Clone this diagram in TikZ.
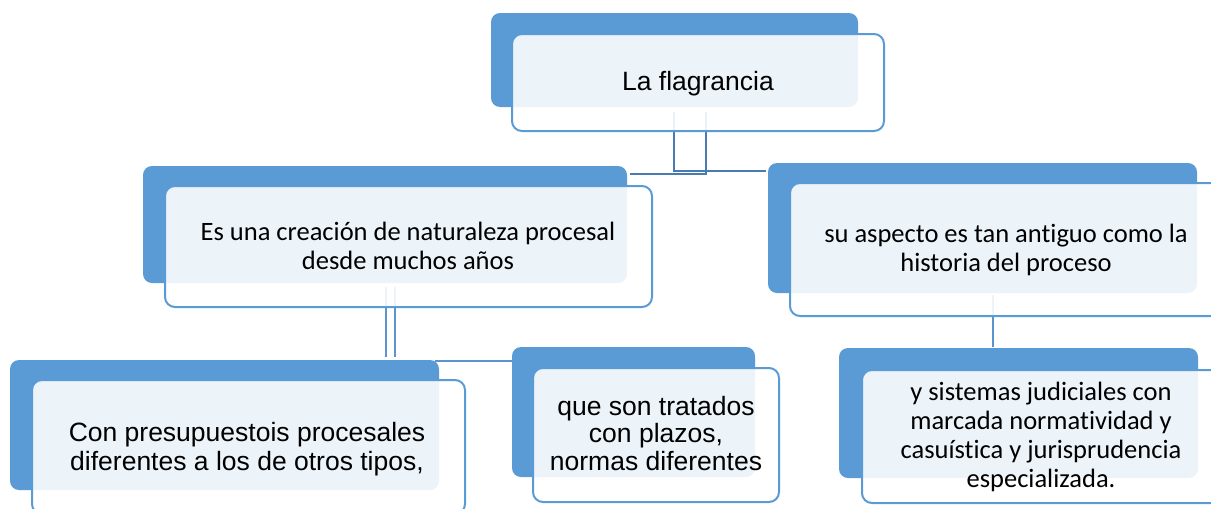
\documentclass[tikz,border=0pt]{standalone}
\usepackage{fontspec}
\newfontfamily\arialf{Liberation Sans}
\newfontfamily\calibrif[Ligatures={NoCommon}]{Carlito}
\definecolor{tabblue}{HTML}{5B9BD5}
\definecolor{edgeblue}{HTML}{5B9BD5}
\definecolor{linkdark}{HTML}{4A7BB0}
\definecolor{linklight}{HTML}{5B95CE}
\begin{document}
\begin{tikzpicture}[x=1pt,y=-1pt,
  backtab/.style={fill=tabblue,draw=none,rounded corners=9pt,inner sep=0pt},
  frontbox/.style={draw=edgeblue,line width=2pt,fill=white,fill opacity=0.89,rounded corners=10pt,inner sep=0pt},
  txt/.style={text=black,align=center,inner sep=0pt,anchor=base,font=\fontsize{26.5}{28.5}\selectfont},
  linkA/.style={draw=linkdark,line width=2pt},
  linkB/.style={draw=linklight,line width=2pt}]
\useasboundingbox (0,0) rectangle (1211,509);
\clip (0,0) rectangle (1211,509);
% connectors
\coordinate (c1) at (674,112);
\coordinate (c2) at (674,171);
\coordinate (c3) at (766,171);
\coordinate (c4) at (630,174);
\coordinate (c5) at (706,174);
\coordinate (c6) at (706,112);
\draw[linkA] (c1) -- (c2) -- (c3);
\draw[linkA] (c4) -- (c5) -- (c6);
\coordinate (d1) at (386,287);
\coordinate (d2) at (386,357);
\coordinate (d3) at (395,287);
\coordinate (d4) at (395,357);
\coordinate (d5) at (435,361);
\coordinate (d6) at (512,361);
\draw[linkB] (d1) -- (d2);
\draw[linkB] (d3) -- (d4);
\draw[linkB] (d5) -- (d6);
\coordinate (e1) at (993,295);
\coordinate (e2) at (993,347);
\draw[linkB] (e1) -- (e2);
% back tabs
\node[backtab,minimum width=367pt,minimum height=94pt] (tb) at (674.5,60) {};
\node[backtab,minimum width=484pt,minimum height=117pt] (lb) at (385,224.5) {};
\node[backtab,minimum width=429pt,minimum height=130pt] (rb) at (982.5,228) {};
\node[backtab,minimum width=429pt,minimum height=130pt] (blb) at (224.5,425) {};
\node[backtab,minimum width=243pt,minimum height=130pt] (bmb) at (633.5,412) {};
\node[backtab,minimum width=359pt,minimum height=130pt] (brb) at (1018.5,413) {};
% front boxes
\node[frontbox,minimum width=372pt,minimum height=97pt] (tf) at (698,82.5) {};
\node[frontbox,minimum width=487pt,minimum height=121pt] (lf) at (408.5,246.5) {};
\node[frontbox,minimum width=440pt,minimum height=133pt] (rf) at (1010,249.5) {};
\node[frontbox,minimum width=433pt,minimum height=134pt] (blf) at (248.5,447) {};
\node[frontbox,minimum width=246pt,minimum height=134pt] (bmf) at (656,435) {};
\node[frontbox,minimum width=368pt,minimum height=133pt] (brf) at (1046,436.5) {};
% texts (anchor base = baseline of the last line)
\node[txt,font=\arialf\fontsize{26.5}{28.5}\selectfont] (tt) at (698,90.7) {La flagrancia};
\node[txt,font=\calibrif\fontsize{26.5}{29}\selectfont] (lt) at (408,269.7) {Es una creación de naturaleza procesal\\desde muchos años};
\node[txt,font=\calibrif\fontsize{26.5}{29}\selectfont] (rt) at (1006,271.5) {su aspecto es tan antiguo como la\\historia del proceso};
\node[txt,font=\arialf\fontsize{26.5}{28.3}\selectfont] (blt) at (247,470) {Con presupuestois procesales\\diferentes a los de otros tipos,};
\node[txt,font=\arialf\fontsize{26.5}{27.5}\selectfont] (bmt) at (656,470) {que son tratados\\con plazos,\\normas diferentes};
\node[txt,font=\calibrif\fontsize{26.5}{29}\selectfont] (brt) at (1041,487) {y sistemas judiciales con\\marcada normatividad y\\casuística y jurisprudencia\\especializada.};
\end{tikzpicture}
\end{document}
